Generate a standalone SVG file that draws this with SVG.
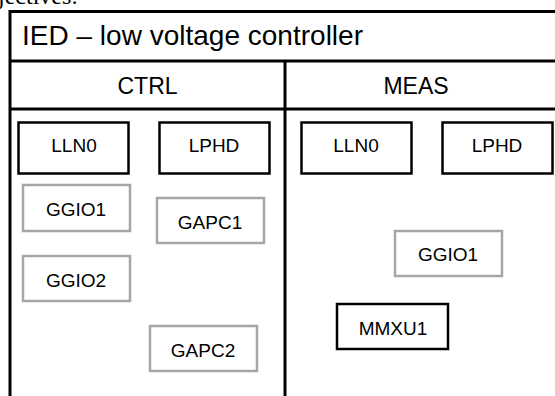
<svg xmlns="http://www.w3.org/2000/svg" width="555" height="396" viewBox="0 0 555 396">
<style>
text{font-family:"Liberation Sans",Arial,sans-serif;fill:#000}
.frame{stroke:#000;stroke-width:3;fill:none}
.ln{fill:#fff;stroke:#000;stroke-width:2.5}
.gn{fill:#fff;stroke:#a6a6a6;stroke-width:2.5}
.lbl{font-size:19px;text-anchor:middle}
.hdr{font-size:23px;text-anchor:middle}
</style>
<rect width="555" height="396" fill="#fff"/>
<text x="-2" y="4" style="font-family:'Liberation Serif',serif;font-size:24px">jectives:</text>
<g id="frame">
<path class="frame" d="M10,398 V11.5 H557 M10,61 H557 M10,109 H557 M285,61 V398"/>
<text x="22" y="45" style="font-size:28px" textLength="341">IED – low voltage controller</text>
</g>
<g id="ctrl"><text class="hdr" x="147.5" y="94">CTRL</text></g>
<g id="meas"><text class="hdr" x="416" y="94">MEAS</text></g>
<g id="ctrl-lln0"><rect class="ln" x="18.5" y="122.5" width="110" height="51"/><text class="lbl" x="74" y="152">LLN0</text></g>
<g id="ctrl-lphd"><rect class="ln" x="159.5" y="122.5" width="110" height="51"/><text class="lbl" x="214" y="152">LPHD</text></g>
<g id="meas-lln0"><rect class="ln" x="301.5" y="122.5" width="110" height="51"/><text class="lbl" x="356" y="152">LLN0</text></g>
<g id="meas-lphd"><rect class="ln" x="442.5" y="122.5" width="110" height="51"/><text class="lbl" x="497" y="152">LPHD</text></g>
<g id="ctrl-ggio1"><rect class="gn" x="23" y="185" width="107" height="46"/><text class="lbl" x="76" y="216">GGIO1</text></g>
<g id="ctrl-gapc1"><rect class="gn" x="157" y="198" width="107" height="45"/><text class="lbl" x="210" y="229">GAPC1</text></g>
<g id="ctrl-ggio2"><rect class="gn" x="23" y="256" width="107" height="45"/><text class="lbl" x="76" y="287">GGIO2</text></g>
<g id="ctrl-gapc2"><rect class="gn" x="150" y="326" width="107" height="45"/><text class="lbl" x="203" y="357">GAPC2</text></g>
<g id="meas-ggio1"><rect class="gn" x="395" y="231" width="107" height="45"/><text class="lbl" x="448" y="261">GGIO1</text></g>
<g id="meas-mmxu1"><rect class="ln" x="337" y="304" width="111" height="45"/><text class="lbl" x="393" y="335">MMXU1</text></g>
<g id="connectors"/>
</svg>
